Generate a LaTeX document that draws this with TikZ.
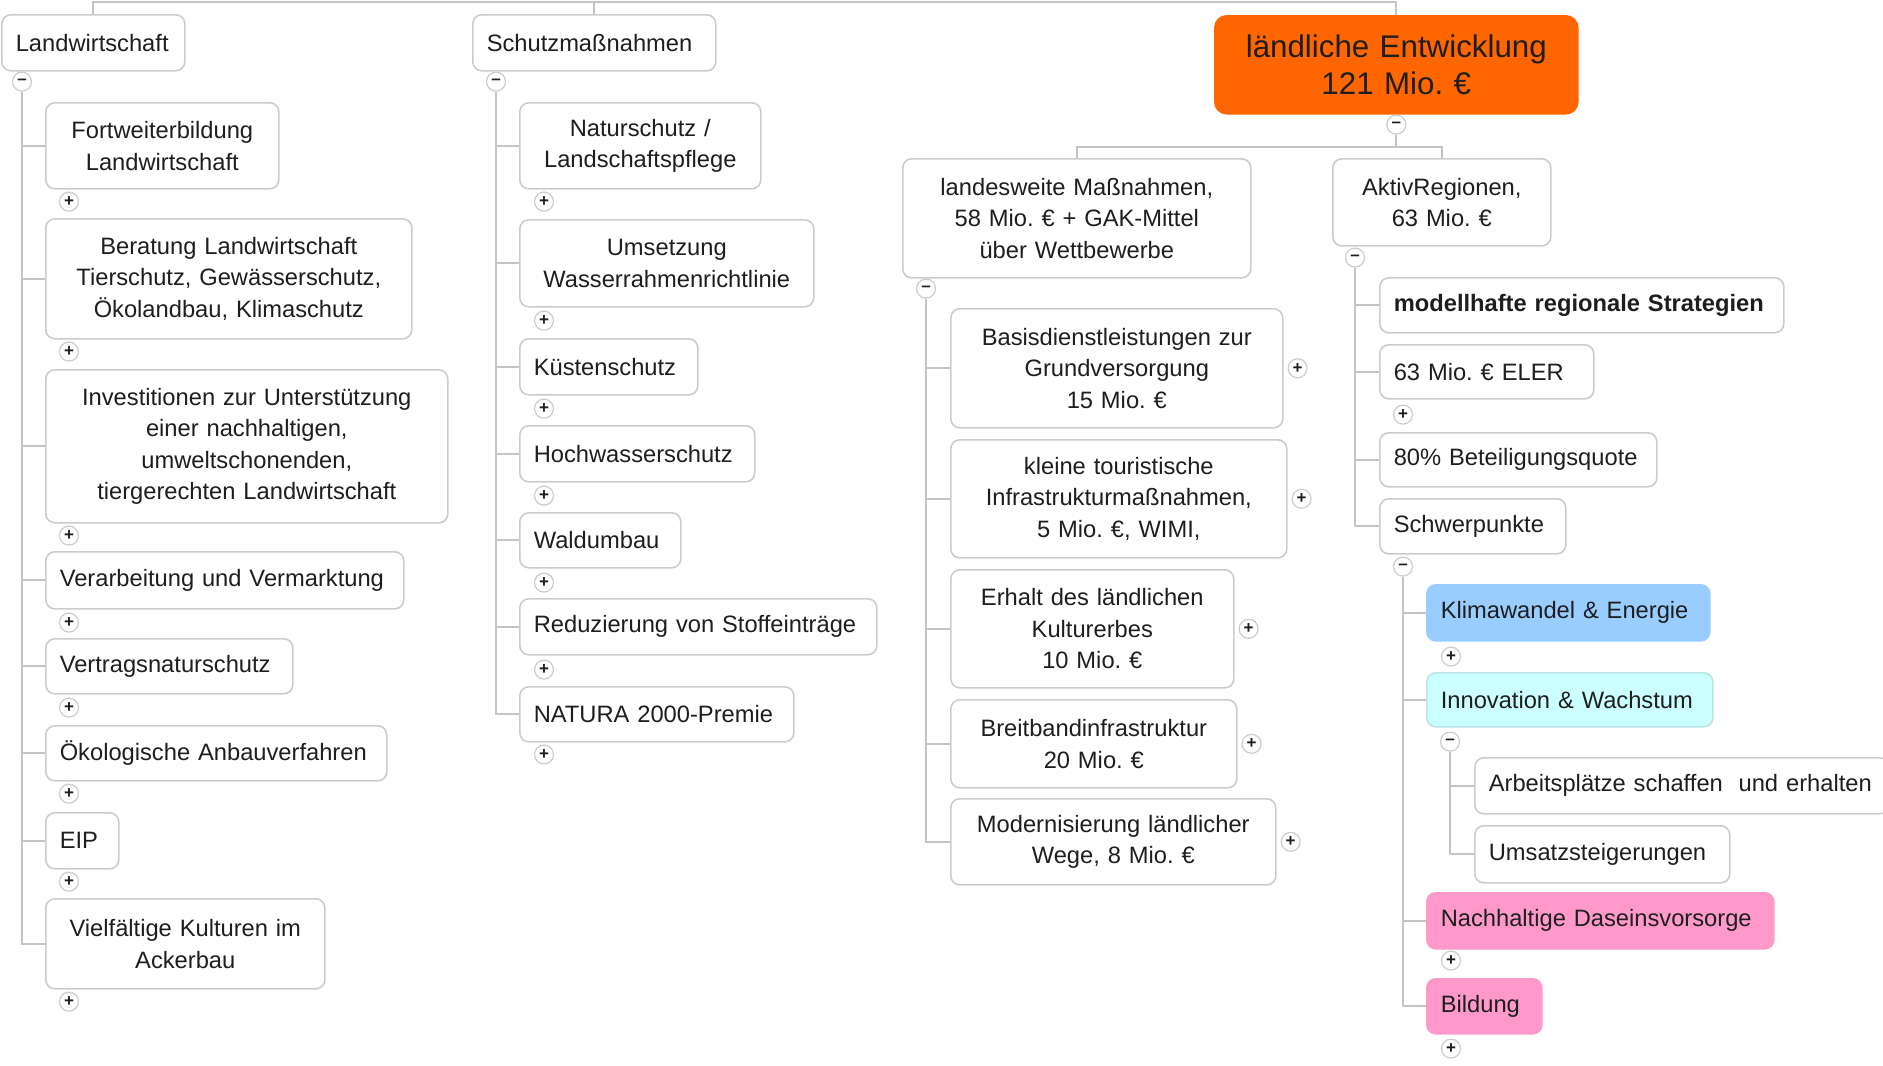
\documentclass[tikz,border=0pt]{standalone}
\usepackage{fontspec}
\setmainfont{Liberation Sans}
\usepackage{tikz}
\usetikzlibrary{positioning}
\definecolor{mmline}{HTML}{C4C4C4}
\definecolor{mmborder}{HTML}{CCCCCC}
\definecolor{mmtext}{HTML}{1E1E1E}
\definecolor{mmorange}{HTML}{FF6600}
\definecolor{mmblue}{HTML}{99CCFF}
\definecolor{mmcyan}{HTML}{CCFFFF}
\definecolor{mmpink}{HTML}{FF99CC}
\newcommand{\mmfont}{\fontsize{23.7}{31.5}\selectfont}
\hyphenpenalty=10000
\exhyphenpenalty=10000
\frenchspacing
\tikzset{
  mmleft/.style={draw=mmborder, line width=1.6pt, fill=white, rounded corners=9pt, anchor=north west,
    inner xsep=14pt, inner ysep=0pt, text=mmtext, font=\mmfont, align=left},
  mmcenter/.style={mmleft, align=center},
  mmconn/.style={draw=mmline, line width=2pt},
  mmplus/.style={circle, draw=mmborder, line width=1.2pt, fill=white, minimum size=19pt, inner sep=0pt,
    text=mmtext, font=\fontsize{17}{17}\selectfont\bfseries},
  mmminus/.style={mmplus}
}

\begin{document}
\begin{tikzpicture}[x=1pt, y=-1pt]
    \useasboundingbox (0,0) rectangle (1883,1066);

    % Landwirtschaft
    \node[mmleft, text width=155pt, minimum height=56pt] (lw) at (1,14) {Landwirtschaft};
    \node[mmcenter, text width=205pt, minimum height=86pt] (fort) at (45,102) {Fortweiterbildung\\Landwirtschaft};
    \node[mmcenter, text width=338pt, minimum height=120pt] (berat) at (45,218) {Beratung Landwirtschaft\\Tierschutz, Gewässerschutz,\\Ökolandbau, Klimaschutz};
    \node[mmcenter, text width=374pt, minimum height=153pt] (invest) at (45,369) {Investitionen zur Unterstützung\\einer nachhaltigen,\\umweltschonenden,\\tiergerechten Landwirtschaft};
    \node[mmleft, text width=330pt, minimum height=57pt] (verarb) at (45,551) {Verarbeitung und Vermarktung};
    \node[mmleft, text width=219pt, minimum height=55pt] (vertrag) at (45,638) {Vertragsnaturschutz};
    \node[mmleft, text width=313pt, minimum height=55pt] (oeko) at (45,725) {Ökologische Anbauverfahren};
    \node[mmleft, text width=45pt, minimum height=56pt] (eip) at (45,812) {EIP};
    \node[mmcenter, text width=251pt, minimum height=90pt] (vielf) at (45,898) {Vielfältige Kulturen im\\Ackerbau};

    % Schutzmassnahmen
    \node[mmleft, text width=215pt, minimum height=56pt] (schutz) at (472,14) {Schutzmaßnahmen};
    \node[mmcenter, text width=213pt, minimum height=86pt] (natur) at (519,102) {Naturschutz /\\Landschaftspflege};
    \node[mmcenter, text width=266pt, minimum height=87pt] (umsetz) at (519,219) {Umsetzung\\Wasserrahmenrichtlinie};
    \node[mmleft, text width=150pt, minimum height=56pt] (kueste) at (519,338) {Küstenschutz};
    \node[mmleft, text width=207pt, minimum height=56pt] (hochw) at (519,425) {Hochwasserschutz};
    \node[mmleft, text width=133pt, minimum height=55pt] (wald) at (519,512) {Waldumbau};
    \node[mmleft, text width=329pt, minimum height=56pt] (reduz) at (519,598) {Reduzierung von Stoffeinträge};
    \node[mmleft, text width=246pt, minimum height=55pt] (natura) at (519,686) {NATURA 2000-Premie};

    % laendliche Entwicklung
    \node[mmcenter, fill=mmorange, draw=mmorange, rounded corners=12pt, text width=335pt, minimum height=98pt,
        font=\fontsize{31.3}{37}\selectfont] (root) at (1214,15) {ländliche Entwicklung\\121 Mio. €};
    \node[mmcenter, text width=320pt, minimum height=119pt] (landes) at (902,158) {landesweite Maßnahmen,\\58 Mio. € + GAK-Mittel\\über Wettbewerbe};
    \node[mmcenter, text width=190pt, minimum height=87pt] (aktiv) at (1332,158) {AktivRegionen,\\63 Mio. €};

    \node[mmcenter, text width=304pt, minimum height=119pt] (basis) at (950,308) {Basisdienstleistungen zur\\Grundversorgung\\15 Mio. €};
    \node[mmcenter, text width=308pt, minimum height=118pt] (klein) at (950,439) {kleine touristische\\Infrastrukturmaßnahmen,\\5 Mio. €, WIMI,};
    \node[mmcenter, text width=255pt, minimum height=118pt] (erhalt) at (950,569) {Erhalt des ländlichen\\Kulturerbes\\10 Mio. €};
    \node[mmcenter, text width=258pt, minimum height=88pt] (breit) at (950,699) {Breitbandinfrastruktur\\20 Mio. €};
    \node[mmcenter, text width=297pt, minimum height=86pt] (modern) at (950,798) {Modernisierung ländlicher\\Wege, 8 Mio. €};

    \node[mmleft, text width=376pt, minimum height=55pt, font=\mmfont\bfseries] (modell) at (1379,277) {modellhafte regionale Strategien};
    \node[mmleft, text width=186pt, minimum height=54pt] (eler) at (1379,344) {63 Mio. € ELER};
    \node[mmleft, text width=249pt, minimum height=54pt] (quote) at (1379,432) {80\% Beteiligungsquote};
    \node[mmleft, text width=158pt, minimum height=55pt] (schwer) at (1379,498) {Schwerpunkte};

    \node[mmleft, fill=mmblue, draw=mmblue, text width=255pt, minimum height=56pt] (klima) at (1426,584) {Klimawandel \& Energie};
    \node[mmleft, fill=mmcyan, draw=mmcyan!80!gray, text width=258pt, minimum height=54pt] (innov) at (1426,672) {Innovation \& Wachstum};
    \node[mmleft, text width=386pt, minimum height=56pt] (arbeit) at (1474,757) {Arbeitsplätze schaffen\ \ und erhalten};
    \node[mmleft, text width=227pt, minimum height=57pt] (umsatz) at (1474,825) {Umsatzsteigerungen};
    \node[mmleft, fill=mmpink, draw=mmpink, text width=319pt, minimum height=56pt] (nach) at (1426,892) {Nachhaltige Daseinsvorsorge};
    \node[mmleft, fill=mmpink, draw=mmpink, text width=87pt, minimum height=55pt] (bild) at (1426,978) {Bildung};

    % open / closed markers
    \node[mmminus] (lwm) at ([xshift=21pt,yshift=-10pt]lw.south west) {–};
    \node[mmminus] (schutzm) at ([xshift=24pt,yshift=-10pt]schutz.south west) {–};
    \node[mmminus] (rootm) at ([yshift=-10pt]root.south) {–};
    \node[mmminus] (landesm) at ([xshift=24pt,yshift=-10pt]landes.south west) {–};
    \node[mmminus] (aktivm) at ([xshift=23pt,yshift=-11pt]aktiv.south west) {–};
    \node[mmminus] (schwerm) at ([xshift=24pt,yshift=-12pt]schwer.south west) {–};
    \node[mmminus] (innovm) at ([xshift=24pt,yshift=-14pt]innov.south west) {–};

    \node[mmplus] (fortp) at ([xshift=24pt,yshift=-12pt]fort.south west) {+};
    \node[mmplus] (beratp) at ([xshift=24pt,yshift=-12pt]berat.south west) {+};
    \node[mmplus] (investp) at ([xshift=24pt,yshift=-12pt]invest.south west) {+};
    \node[mmplus] (verarbp) at ([xshift=24pt,yshift=-13pt]verarb.south west) {+};
    \node[mmplus] (vertragp) at ([xshift=24pt,yshift=-13pt]vertrag.south west) {+};
    \node[mmplus] (oekop) at ([xshift=24pt,yshift=-12pt]oeko.south west) {+};
    \node[mmplus] (eipp) at ([xshift=24pt,yshift=-12pt]eip.south west) {+};
    \node[mmplus] (vielfp) at ([xshift=24pt,yshift=-12pt]vielf.south west) {+};

    \node[mmplus] (naturp) at ([xshift=25pt,yshift=-12pt]natur.south west) {+};
    \node[mmplus] (umsetzp) at ([xshift=25pt,yshift=-13pt]umsetz.south west) {+};
    \node[mmplus] (kuestep) at ([xshift=25pt,yshift=-13pt]kueste.south west) {+};
    \node[mmplus] (hochwp) at ([xshift=25pt,yshift=-13pt]hochw.south west) {+};
    \node[mmplus] (waldp) at ([xshift=25pt,yshift=-14pt]wald.south west) {+};
    \node[mmplus] (reduzp) at ([xshift=25pt,yshift=-14pt]reduz.south west) {+};
    \node[mmplus] (naturap) at ([xshift=25pt,yshift=-12pt]natura.south west) {+};

    \node[mmplus] (basisp) at ([xshift=14pt]basis.east) {+};
    \node[mmplus] (kleinp) at ([xshift=14pt]klein.east) {+};
    \node[mmplus] (erhaltp) at ([xshift=14pt]erhalt.east) {+};
    \node[mmplus] (breitp) at ([xshift=14pt]breit.east) {+};
    \node[mmplus] (modernp) at ([xshift=14pt]modern.east) {+};

    \node[mmplus] (elerp) at ([xshift=24pt,yshift=-15pt]eler.south west) {+};
    \node[mmplus] (klimap) at ([xshift=25pt,yshift=-15pt]klima.south west) {+};
    \node[mmplus] (nachp) at ([xshift=25pt,yshift=-11pt]nach.south west) {+};
    \node[mmplus] (bildp) at ([xshift=25pt,yshift=-14pt]bild.south west) {+};

    % connectors
    \coordinate (topbar) at (744,2);
    \coordinate[below=12pt of rootm] (rootfork);
    \draw[mmconn] (lw.north) |- (topbar) -| (root.north);
    \draw[mmconn] (schutz.north) |- (topbar);
    \draw[mmconn] (rootm.south) -- (rootfork) -| (landes.north);
    \draw[mmconn] (rootfork) -| (aktiv.north);

    \draw[mmconn] (lwm.south) |- (fort.west) (lwm.south) |- (berat.west) (lwm.south) |- (invest.west)
        (lwm.south) |- (verarb.west) (lwm.south) |- (vertrag.west) (lwm.south) |- (oeko.west)
        (lwm.south) |- (eip.west) (lwm.south) |- (vielf.west);
    \draw[mmconn] (schutzm.south) |- (natur.west) (schutzm.south) |- (umsetz.west) (schutzm.south) |- (kueste.west)
        (schutzm.south) |- (hochw.west) (schutzm.south) |- (wald.west) (schutzm.south) |- (reduz.west)
        (schutzm.south) |- (natura.west);
    \draw[mmconn] (landesm.south) |- (basis.west) (landesm.south) |- (klein.west) (landesm.south) |- (erhalt.west)
        (landesm.south) |- (breit.west) (landesm.south) |- (modern.west);
    \draw[mmconn] (aktivm.south) |- (modell.west) (aktivm.south) |- (eler.west) (aktivm.south) |- (quote.west)
        (aktivm.south) |- (schwer.west);
    \draw[mmconn] (schwerm.south) |- (klima.west) (schwerm.south) |- (innov.west) (schwerm.south) |- (nach.west)
        (schwerm.south) |- (bild.west);
    \draw[mmconn] (innovm.south) |- (arbeit.west) (innovm.south) |- (umsatz.west);
\end{tikzpicture}
\end{document}
